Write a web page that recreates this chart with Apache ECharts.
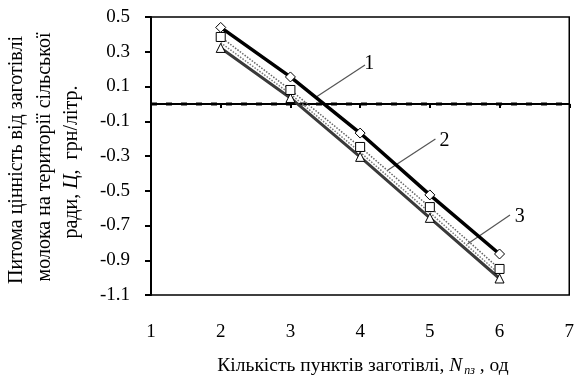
<!DOCTYPE html>
<html>
<head>
<meta charset="utf-8">
<script src="https://cdn.jsdelivr.net/npm/echarts@6/dist/echarts.min.js"></script>
<style>
html,body{margin:0;padding:0;background:#fff;}
#c{width:577px;height:380px;}
</style>
</head>
<body>
<div id="c"></div>
<script>
var xValues = [2, 3, 4, 5, 6];
var series1 = [0.44, 0.155, -0.168, -0.524, -0.864];   // curve 1, diamonds
var series2 = [0.385, 0.080, -0.248, -0.594, -0.950];  // squares, dotted
var seriesMid = [0.352, 0.057, -0.278, -0.626, -0.980]; // dotted, no markers
var series3 = [0.322, 0.034, -0.305, -0.656, -1.005];  // curve 3, triangles
var yTicks = [-1.1, -0.9, -0.7, -0.5, -0.3, -0.1, 0.1, 0.3, 0.5];
var xTicks = [1, 2, 3, 4, 5, 6, 7];
var refLine = [[1, 0], [7, 0]];
var annLabels = [['1', 4.13, 0.23], ['2', 5.21, -0.214], ['3', 6.29, -0.651]];
var annLeaders = [[[4.07, 0.224], [3.37, 0.040]], [[5.08, -0.202], [4.40, -0.381]], [[6.15, -0.640], [5.54, -0.807]]];

function pairs(arr) { return xValues.map(function (x, i) { return [x, arr[i]]; }); }

var FONT = '"Liberation Serif", "Times New Roman", serif';
var chart = echarts.init(document.getElementById('c'));

var option = {
  animation: false,
  backgroundColor: '#fff',
  grid: { left: 151, right: 4, top: 17, bottom: 85, show: true, borderColor: '#000', borderWidth: 1.5, backgroundColor: 'transparent' },
  xAxis: {
    type: 'value', min: 1, max: 7, interval: 1,
    axisLine: { show: true, lineStyle: { color: '#000', width: 2 } },
    axisTick: { show: true, length: 4, inside: false, lineStyle: { color: '#000', width: 2 }, customValues: xTicks },
    axisLabel: { color: '#000', fontFamily: FONT, fontSize: 19, margin: 28, customValues: xTicks },
    splitLine: { show: false }
  },
  yAxis: {
    type: 'value', min: -1.1, max: 0.5,
    axisLine: { show: true, lineStyle: { color: '#000', width: 2 } },
    axisTick: { show: true, length: 6, inside: false, lineStyle: { color: '#000', width: 2 }, customValues: yTicks },
    axisLabel: { color: '#000', fontFamily: FONT, fontSize: 19, margin: 21, customValues: yTicks,
      formatter: function (v) { return (Math.round(v * 10) / 10).toFixed(1); } },
    splitLine: { show: false }
  },
  series: [
    {
      type: 'line', data: refLine, symbol: 'none', silent: true,
      lineStyle: { color: '#000', width: 3, type: [6, 9], cap: 'butt' },
      z: 1
    },
    {
      type: 'line', data: pairs(seriesMid), symbol: 'none',
      lineStyle: { color: '#777', width: 1.5, type: 'dotted' },
      z: 2
    },
    {
      type: 'line', data: pairs(series3), symbol: 'triangle', symbolSize: 9,
      itemStyle: { color: '#fff', borderColor: '#000', borderWidth: 1 },
      lineStyle: { color: '#3a3a3a', width: 3 },
      z: 3
    },
    {
      type: 'line', data: pairs(series2), symbol: 'rect', symbolSize: 9,
      itemStyle: { color: '#fff', borderColor: '#000', borderWidth: 1 },
      lineStyle: { color: '#666', width: 1.5, type: 'dotted' },
      z: 4
    },
    {
      type: 'line', data: pairs(series1), symbol: 'diamond', symbolSize: 10,
      itemStyle: { color: '#fff', borderColor: '#000', borderWidth: 1 },
      lineStyle: { color: '#000', width: 3.5 },
      z: 5,
      markLine: {
        silent: true, symbol: 'none', label: { show: false },
        lineStyle: { color: '#555', width: 1.2, type: 'solid' },
        data: annLeaders.map(function (p) { return [{ coord: p[0] }, { coord: p[1] }]; })
      },
      markPoint: {
        silent: true, symbol: 'circle', symbolSize: 0,
        label: { show: true, color: '#000', fontFamily: FONT, fontSize: 20, formatter: '{b}', position: 'inside' },
        data: annLabels.map(function (a) { return { name: a[0], coord: [a[1], a[2]] }; })
      }
    }
  ],
  graphic: [
    { type: 'text', x: 17, y: 160, rotation: Math.PI / 2,
      style: { text: 'Питома цінність від заготівлі', fontFamily: FONT, fontSize: 20, fill: '#000', align: 'center', verticalAlign: 'middle' } },
    { type: 'text', x: 45, y: 157, rotation: Math.PI / 2,
      style: { text: 'молока на території сільської', fontFamily: FONT, fontSize: 20, fill: '#000', align: 'center', verticalAlign: 'middle' } },
    { type: 'text', x: 72, y: 162, rotation: Math.PI / 2,
      style: { text: 'ради, {i|Ц},  грн/літр.', fontFamily: FONT, fontSize: 20, fill: '#000', align: 'center', verticalAlign: 'middle',
        rich: { i: { fontFamily: FONT, fontSize: 20, fontStyle: 'italic', fill: '#000' } } } },
    { type: 'text', x: 363, y: 366,
      style: { text: 'Кількість пунктів заготівлі, {n|N}{s|пз}{t| , од}', fontFamily: FONT, fontSize: 19.5, fill: '#000', align: 'center', verticalAlign: 'middle',
        rich: {
          n: { fontFamily: FONT, fontSize: 19.5, fontStyle: 'italic', fill: '#000' },
          s: { fontFamily: FONT, fontSize: 12, fontStyle: 'italic', fill: '#000', padding: [9, 0, 0, 2] },
          t: { fontFamily: FONT, fontSize: 19.5, fill: '#000' }
        } } }
  ]
};
chart.setOption(option);
</script>
</body>
</html>
